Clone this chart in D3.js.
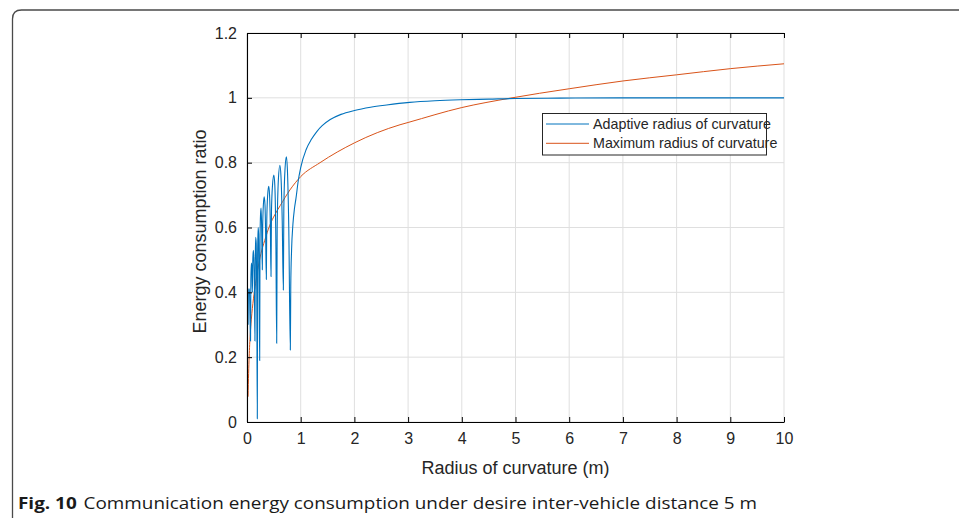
<!DOCTYPE html>
<html><head><meta charset="utf-8">
<script src="https://cdn.jsdelivr.net/npm/d3@7"></script>
<style>
html,body{margin:0;padding:0;background:#fff;}
svg{display:block;}
</style></head>
<body>
<svg id="chart" width="959" height="518"></svg>
<script>
// ---- data ----
const xTicks = [0,1,2,3,4,5,6,7,8,9,10];
const yTicks = [0,0.2,0.4,0.6,0.8,1,1.2];
const yTickLabels = ["0","0.2","0.4","0.6","0.8","1","1.2"];
const seriesNames = ["Adaptive radius of curvature","Maximum radius of curvature"];
const seriesColors = ["#0072BD","#D95319"];

const adaptiveX = [0.020,0.028,0.045,0.055,0.066,0.072,0.082,0.092,0.100,0.108,0.118,0.128,0.138,0.148,0.154,0.162,0.172,0.182,0.192,0.198,0.207,0.216,0.226,0.236,0.242,0.252,0.262,0.272,0.285,0.292,0.305,0.320,0.335,0.348,0.360,0.368,0.385,0.405,0.420,0.435,0.447,0.456,0.475,0.500,0.518,0.538,0.553,0.562,0.585,0.612,0.632,0.656,0.677,0.686,0.708,0.733,0.752,0.778,0.807,0.815,0.830,0.855,0.885,0.912,0.955,1.00,1.10,1.20,1.30,1.40,1.55,1.75,2.00,2.30,2.60,3.03,3.50,3.97,4.50,5.00,5.83,7.00,8.50,10.0];
const adaptiveY = [0.30,0.41,0.41,0.33,0.25,0.44,0.49,0.47,0.40,0.50,0.53,0.50,0.42,0.25,0.50,0.57,0.55,0.40,0.01,0.52,0.60,0.58,0.40,0.19,0.55,0.64,0.66,0.61,0.47,0.60,0.67,0.695,0.67,0.57,0.44,0.62,0.70,0.727,0.70,0.60,0.449,0.65,0.73,0.762,0.73,0.55,0.243,0.60,0.75,0.792,0.76,0.62,0.407,0.66,0.78,0.818,0.78,0.60,0.222,0.42,0.53,0.61,0.66,0.69,0.745,0.785,0.840,0.872,0.896,0.914,0.933,0.949,0.961,0.971,0.978,0.986,0.991,0.994,0.996,0.998,0.999,1.0,1.0,1.0];

const maximumX = [0.020,0.030,0.040,0.060,0.080,0.120,0.160,0.200,0.260,0.330,0.420,0.520,0.620,0.800,1.00,1.36,2.00,2.85,3.00,4.00,4.90,6.00,7.00,8.00,9.00,10.0];
const maximumY = [0.078,0.15,0.20,0.27,0.315,0.38,0.428,0.47,0.52,0.56,0.605,0.64,0.668,0.716,0.757,0.80,0.861,0.917,0.924,0.970,0.999,1.028,1.052,1.071,1.090,1.105];

const xLabel = "Radius of curvature (m)";
const yLabel = "Energy consumption ratio";
const captionBold = "Fig. 10";
const captionText = "Communication energy consumption under desire inter-vehicle distance 5 m";

// ---- drawing ----
const svg = d3.select("#chart");
const L = 247, R = 784, T = 33, B = 422;
const x = d3.scaleLinear().domain([0,10]).range([L,R]);
const y = d3.scaleLinear().domain([0,1.2]).range([B,T]);
const font = "'Liberation Sans', Arial, sans-serif";
const txt = "#262626";

// frame
svg.append("path")
  .attr("d", `M12.5,518 L12.5,19 Q12.5,10 21.5,10 L959,10`)
  .attr("fill","none").attr("stroke","#4a4a4a").attr("stroke-width",1.3);

// grid
const g = svg.append("g");
g.selectAll("line.gx").data(xTicks).join("line")
  .attr("x1",d=>x(d)).attr("x2",d=>x(d)).attr("y1",T).attr("y2",B)
  .attr("stroke","#dfdfdf").attr("stroke-width",1);
g.selectAll("line.gy").data(yTicks).join("line")
  .attr("x1",L).attr("x2",R).attr("y1",d=>y(d)).attr("y2",d=>y(d))
  .attr("stroke","#dfdfdf").attr("stroke-width",1);

// series
const line = d3.line().curve(d3.curveMonotoneX);
const adaptive = adaptiveX.map((v,i)=>[x(v), y(adaptiveY[i])]);
const maximum = maximumX.map((v,i)=>[x(v), y(maximumY[i])]);
svg.append("path").attr("d", line(maximum)).attr("fill","none")
  .attr("stroke",seriesColors[1]).attr("stroke-width",1);
svg.append("path").attr("d", line(adaptive)).attr("fill","none")
  .attr("stroke",seriesColors[0]).attr("stroke-width",1.1);

// axes
const ax = svg.append("g").attr("transform",`translate(0,${B})`)
  .call(d3.axisBottom(x).tickValues(xTicks).tickSizeInner(-5).tickSizeOuter(0).tickPadding(11));
const axTop = svg.append("g").attr("transform",`translate(0,${T})`)
  .call(d3.axisTop(x).tickValues(xTicks).tickSizeInner(-5).tickSizeOuter(0).tickFormat(""));
const ay = svg.append("g").attr("transform",`translate(${L},0)`)
  .call(d3.axisLeft(y).tickValues(yTicks).tickSizeInner(-5).tickSizeOuter(0).tickPadding(10)
    .tickFormat((d,i)=>yTickLabels[i]));
[ax,axTop,ay].forEach(a=>{
  a.select(".domain").attr("stroke","#000").attr("stroke-width",1.1);
  a.selectAll(".tick line").attr("stroke","#000");
  a.selectAll("text").attr("font-family",font).attr("font-size",16).attr("fill",txt);
});

// axis titles
svg.append("text").attr("x",(L+R)/2).attr("y",474).attr("text-anchor","middle")
  .attr("font-family",font).attr("font-size",18).attr("fill",txt).text(xLabel);
svg.append("text").attr("transform",`translate(206,${(T+B)/2+4}) rotate(-90)`)
  .attr("text-anchor","middle")
  .attr("font-family",font).attr("font-size",18).attr("fill",txt).text(yLabel);

// legend
const lg = svg.append("g");
lg.append("rect").attr("x",542.5).attr("y",113.5).attr("width",224).attr("height",41.5)
  .attr("fill","#fff").attr("stroke","#262626").attr("stroke-width",1);
seriesNames.forEach((n,i)=>{
  const cy = 124 + i*19.3;
  lg.append("line").attr("x1",546).attr("x2",589).attr("y1",cy).attr("y2",cy)
    .attr("stroke",seriesColors[i]).attr("stroke-width",1);
  lg.append("text").attr("x",593).attr("y",cy+5).attr("font-family",font)
    .attr("font-size",14.3).attr("fill",txt).text(n);
});

// caption
const cap = svg.append("text").attr("x",18).attr("y",509)
  .attr("font-family","'Open Sans', 'Noto Sans', sans-serif").attr("font-size",16.5).attr("fill","#1a1a1a");
cap.append("tspan").attr("font-weight","bold").text(captionBold);
cap.append("tspan").attr("dx",6).text(captionText);
const w = cap.node().getComputedTextLength();
if (w > 0) {
  cap.attr("textLength", 739).attr("lengthAdjust","spacingAndGlyphs");
}
</script>
</body></html>
